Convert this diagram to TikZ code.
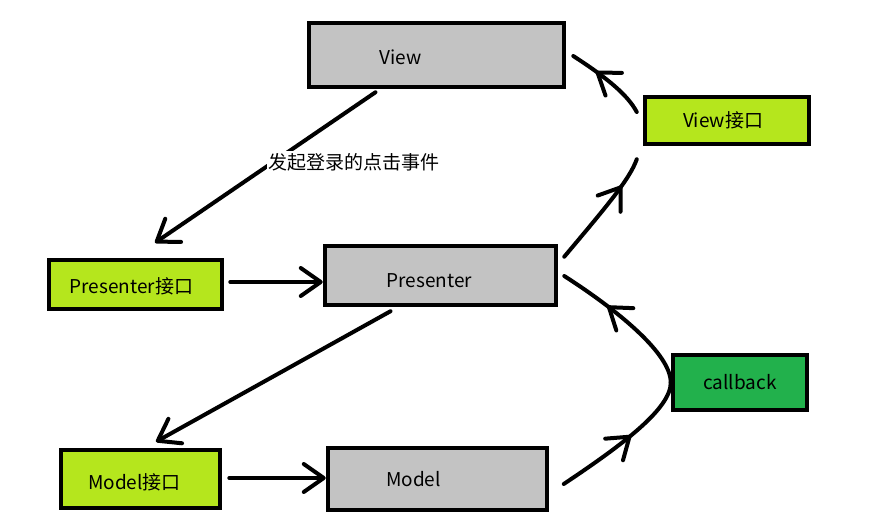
\documentclass[tikz,border=0pt]{standalone}
\usepackage{fontspec}
\setmainfont{Noto Sans CJK SC}
\usetikzlibrary{calc,arrows.meta,decorations.markings}

\definecolor{paintgrey}{RGB}{195,195,195}
\definecolor{paintlime}{RGB}{181,230,29}
\definecolor{paintgreen}{RGB}{34,177,76}

\tikzset{
  box/.style={draw=black, line width=4.5pt, inner sep=0pt, font=\fontsize{19}{23}\selectfont},
  greybox/.style={box, fill=paintgrey},
  limebox/.style={box, fill=paintlime},
  greenbox/.style={box, fill=paintgreen},
  barb/.style={line width=4pt, line cap=round, -{Straight Barb[round,length=20pt,width=28pt]}},
  midbarb/.style={line width=4pt, line cap=round, postaction={decorate},
    decoration={markings, mark=at position #1 with {\arrow{Straight Barb[round,length=20pt,width=28pt]}}}},
  clicklbl/.style={fill=white, inner sep=2pt, font=\fontsize{19}{23}\selectfont},
}

\begin{document}
\begin{tikzpicture}[x=1pt,y=-1pt]
  \useasboundingbox (0,0) rectangle (873,529);

  %% 方框 boxes
  \node[greybox, minimum width=255pt, minimum height=64pt] (view) at (436.5,55) {\raisebox{-2.5pt}[\height][\depth]{View}\hspace*{72pt}};
  \node[limebox, minimum width=164pt, minimum height=47pt] (viewif) at (727,120.5) {View接口\hspace*{8pt}};
  \node[greybox, minimum width=231pt, minimum height=59pt] (presenter) at (440.5,275.5) {\raisebox{-5pt}[\height][\depth]{Presenter}\hspace*{22pt}};
  \node[limebox, minimum width=173pt, minimum height=49pt] (presenterif) at (135.5,284.5) {\raisebox{-2pt}[\height][\depth]{Presenter接口}\hspace*{8pt}};
  \node[greenbox, minimum width=134pt, minimum height=55pt] (callback) at (740,382.5) {callback};
  \node[limebox, minimum width=159pt, minimum height=58pt] (modelif) at (140.5,479) {\raisebox{-3pt}[\height][\depth]{Model接口}\hspace*{12pt}};
  \node[greybox, minimum width=219pt, minimum height=62pt] (model) at (437.5,479) {Model\hspace*{48pt}};

  %% 左侧 straight arrows
  \draw[barb] ($(view.south)+(-61,3)$) -- ($(presenterif.north)+(19.5,-15)$);
  \node[clicklbl] (click) at (354,162) {发起登录的点击事件};
  \draw[barb] ($(presenterif.east)+(6,-2.5)$) coordinate (pa) -- (pa -| presenter.west);
  \draw[barb] ($(presenter.south)+(-50,4)$) -- ($(modelif.north)+(15.5,-6)$);
  \draw[barb] ($(modelif.east)+(7,-1)$) coordinate (ma) -- (ma -| model.west);

  %% 右侧 curves, View接口
  \draw[midbarb=0.75] ($(presenter.north east)+(6,13)$) .. controls +(42,-50) and +(-7,20) .. ($(viewif.south west)+(-6,13)$);
  \draw[midbarb=0.68] ($(viewif.west)+(-6,-8.5)$) .. controls +(-9,-17) and +(34,22) .. ($(view.east)+(7,1)$);

  %% callback
  \draw[midbarb=0.55] ($(model.east)+(14.5,5)$) .. controls +(60,-40) and +(0,26) .. (callback.west);
  \draw[midbarb=0.66] (callback.west) .. controls +(0,-29) and +(53,34) .. ($(presenter.east)+(6,0.5)$);
\end{tikzpicture}
\end{document}
